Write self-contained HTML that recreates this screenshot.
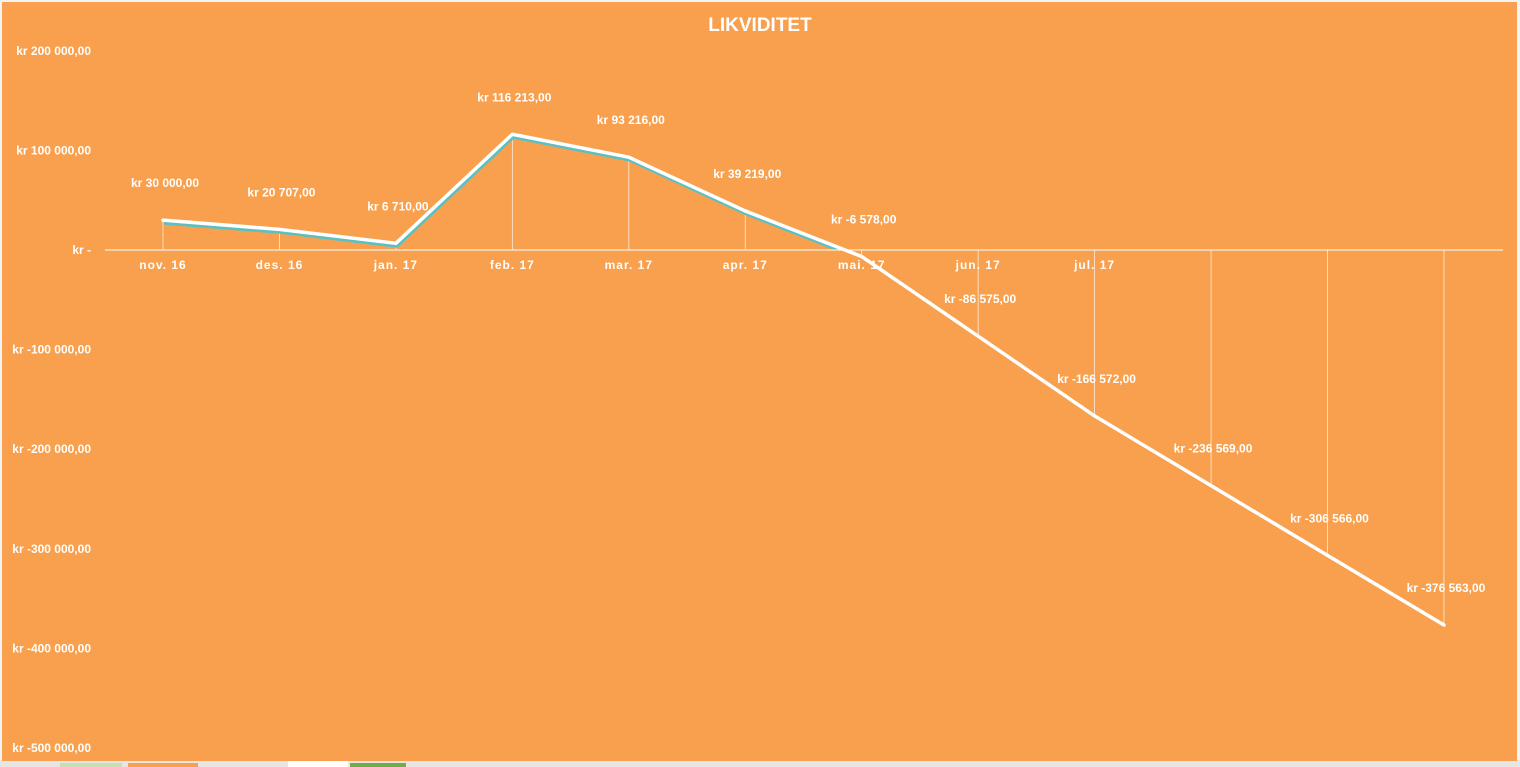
<!DOCTYPE html>
<html><head><meta charset="utf-8"><style>
html,body{margin:0;padding:0;width:1520px;height:767px;overflow:hidden;background:#fff;font-family:"Liberation Sans",Arial,sans-serif}
svg text{font-family:"Liberation Sans",Arial,sans-serif;font-weight:bold;fill:#fff}
</style></head><body>
<svg id="chart" width="1520" height="767" xmlns="http://www.w3.org/2000/svg">
<defs><clipPath id="pos"><rect x="0" y="0" width="1520" height="250"/></clipPath></defs>
<rect x="0" y="0" width="1520" height="767" fill="#f3f3f3"/>
<rect x="0" y="760" width="1520" height="7" fill="#e6e6e6"/>
<rect x="60" y="763" width="62" height="4" fill="#c6e0b4"/>
<rect x="128" y="763" width="70" height="4" fill="#f8a04d"/>
<rect x="288" y="761" width="60" height="6" fill="#ffffff"/>
<rect x="350" y="763" width="56" height="4" fill="#70ad47"/>
<rect x="2" y="2" width="1515" height="759" fill="#f8a04d"/>
<text x="760" y="31" font-size="19" text-anchor="middle">LIKVIDITET</text>
<g id="yaxis"></g><g id="drops"></g><g id="series"></g><g id="labels"></g><g id="xaxis"></g>
</svg>
<script>
const categories=["nov. 16","des. 16","jan. 17","feb. 17","mar. 17","apr. 17","mai. 17","jun. 17","jul. 17","","",""];
const values=[30000,20707,6710,116213,93216,39219,-6578,-86575,-166572,-236569,-306566,-376563];
const dataLabels=["kr 30 000,00","kr 20 707,00","kr 6 710,00","kr 116 213,00","kr 93 216,00","kr 39 219,00","kr -6 578,00","kr -86 575,00","kr -166 572,00","kr -236 569,00","kr -306 566,00","kr -376 563,00"];
const yTicks=[200000,100000,0,-100000,-200000,-300000,-400000,-500000];
const yTickLabels=["kr 200 000,00","kr 100 000,00","kr -","kr -100 000,00","kr -200 000,00","kr -300 000,00","kr -400 000,00","kr -500 000,00"];
const NS="http://www.w3.org/2000/svg";
function y(v){return 250-v*0.000996;}
function x(i){return 163+i*116.45;}
function mk(tag,attrs,parent){const e=document.createElementNS(NS,tag);for(const k in attrs)e.setAttribute(k,attrs[k]);document.getElementById(parent).appendChild(e);return e;}
yTicks.forEach((t,i)=>{
  const e=mk("text",{x:91,y:y(t)+4,"font-size":12,"text-anchor":"end"},"yaxis");
  e.textContent=yTickLabels[i];
  
  
});
const ax=mk("line",{x1:105,x2:1503,y1:y(0),y2:y(0),stroke:"#fff","stroke-width":1},"xaxis");


categories.forEach((c,i)=>{
  if(!c)return;
  const e=mk("text",{x:x(i),y:y(0)+19,"font-size":12,"text-anchor":"middle","letter-spacing":"1"},"xaxis");
  e.textContent=c;
  
  
});
values.forEach((v,i)=>{
  const d=mk("line",{x1:x(i),x2:x(i),y1:y(v),y2:y(0),stroke:"#fff","stroke-opacity":0.8,"stroke-width":0.8},"drops");
  
  
});
const ptsShadow=values.map((v,i)=>(x(i)+1)+","+(y(v)+3)).join(" ");
const sh=mk("polyline",{points:ptsShadow,fill:"none",stroke:"#5bc0c4","stroke-width":3,"stroke-linejoin":"round","clip-path":"url(#pos)"},"series");


const pts=values.map((v,i)=>x(i)+","+y(v)).join(" ");
const ln=mk("polyline",{points:pts,fill:"none",stroke:"#fff","stroke-width":3.5,"stroke-linejoin":"round","stroke-linecap":"round"},"series");


values.forEach((v,i)=>{
  const e=mk("text",{x:x(i)+2,y:y(v)-33,"font-size":12,"text-anchor":"middle"},"labels");
  e.textContent=dataLabels[i];
  
  
});
</script>
</body></html>
